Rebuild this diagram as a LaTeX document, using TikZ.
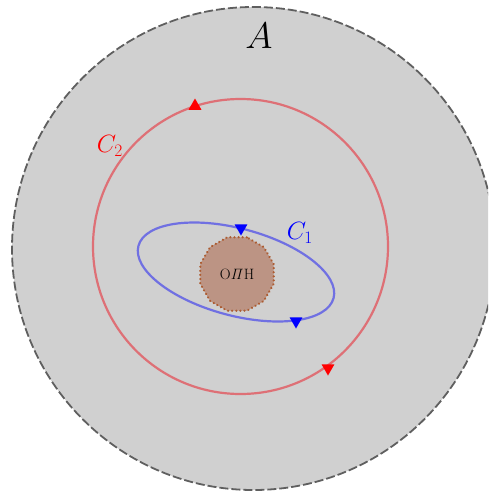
\RequirePackage{fix-cm}
\documentclass[tikz,border=0pt]{standalone}
\usetikzlibrary{shapes.geometric}
\definecolor{bggray}{RGB}{208,208,208}
\definecolor{edgegray}{RGB}{95,95,95}
\definecolor{redline}{RGB}{222,112,118}
\definecolor{blueline}{RGB}{112,112,226}
\definecolor{brownfill}{RGB}{188,148,132}
\definecolor{brownedge}{RGB}{172,92,50}
\tikzset{
  mark up/.style={regular polygon, regular polygon sides=3, inner sep=0pt, minimum size=15pt, draw=none},
  mark down/.style={mark up, shape border rotate=180},
}
\begin{document}
\begin{tikzpicture}[x=1pt,y=-1pt]
\useasboundingbox (0,0) rectangle (488,496);
\clip (0,0) rectangle (488,496);
% region A
\node[circle, minimum size=483pt, inner sep=0pt, fill=bggray, draw=edgegray, line width=1.8pt, dash pattern=on 9pt off 3pt] (region) at (253.5,248.5) {};
\node[font=\fontsize{37}{40}\selectfont] (lblA) at (259,36) {$A$};
% C2 circle
\node[circle, minimum size=295pt, inner sep=0pt, draw=redline, line width=2.2pt] (c2) at (240.5,246.5) {};
\node[text=red, font=\fontsize{25}{28}\selectfont] (lblC2) at (110,146) {$C_2$};
% C1 ellipse
\coordinate (c1c) at (236,272);
\draw[blueline, line width=2.2pt, rotate around={-15:(c1c)}] (c1c) ellipse [x radius=101, y radius=43.5];
\node[text=blue, font=\fontsize{25}{28}\selectfont] (lblC1) at (300,233) {$C_1$};
% obstacle
\node[regular polygon, regular polygon sides=12, minimum size=76pt, inner sep=0pt, fill=brownfill, draw=brownedge, line width=2.4pt, line cap=round, dash pattern=on 0.1pt off 4pt, font=\fontsize{15}{17}\selectfont] (obst) at (237,274) {O$\mathit{\Pi}$H};
% markers
\node[mark up, fill=red] (r1) at (195,106) {};
\node[mark down, fill=red] (r2) at (328,368) {};
\node[mark down, fill=blue] (b1) at (241,228) {};
\node[mark down, fill=blue] (b2) at (296,321) {};
\end{tikzpicture}
\end{document}
